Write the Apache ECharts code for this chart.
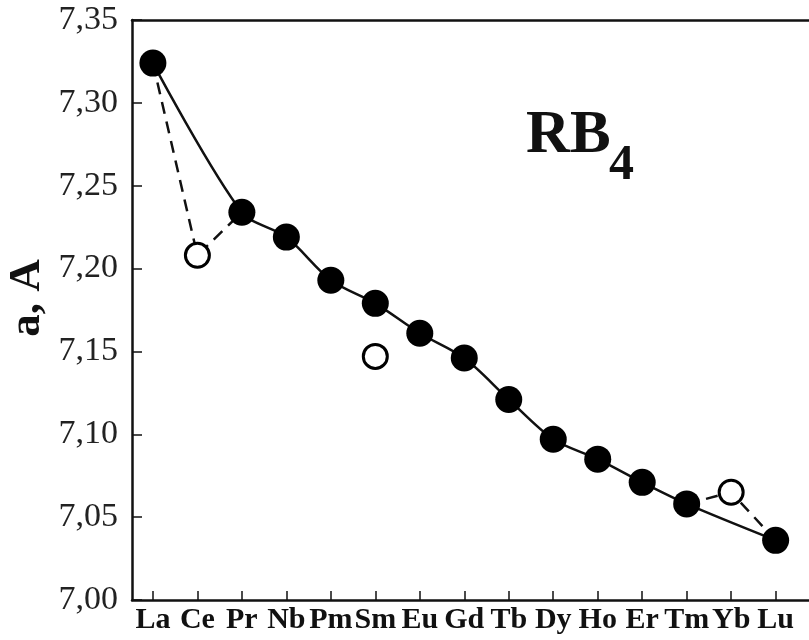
<!DOCTYPE html>
<html>
<head>
<meta charset="utf-8">
<script src="https://cdn.jsdelivr.net/npm/echarts@6/dist/echarts.min.js"></script>
<style>
  html, body { margin: 0; padding: 0; background: #fff; }
  #chart { width: 809px; height: 640px; }
</style>
</head>
<body>
<div id="chart"></div>
<script>
const elements = ['La', 'Ce', 'Pr', 'Nb', 'Pm', 'Sm', 'Eu', 'Gd', 'Tb', 'Dy', 'Ho', 'Er', 'Tm', 'Yb', 'Lu']
// filled points on the solid curve (null = no point)
const latticeMain = [7.324, null, 7.234, 7.219, 7.193, 7.179, 7.161, 7.146, 7.121, 7.097, 7.085, 7.071, 7.058, null, 7.036]
// open circles
const latticeOpen = [null, 7.208, null, null, null, 7.147, null, null, null, null, null, null, null, 7.065, null]
// dashed branches: indices of points
const dashA = [0, 1, 2]
const dashB = [12, 13, 14]

const serif = '"Liberation Serif", "DejaVu Serif", serif'

function toPairs(arr) {
  const out = []
  arr.forEach((v, i) => {
    if (v !== null) out.push([i, v])
  })
  return out
}
function dashPairs(idx) {
  return idx.map(i => [i, latticeMain[i] !== null ? latticeMain[i] : latticeOpen[i]])
}

const chart = echarts.init(document.getElementById('chart'))
const tickIdx = elements.map((e, i) => i)

chart.setOption({
  animation: false,
  grid: { left: 132, right: 0, top: 20, bottom: 40 },
  xAxis: [
    {
      type: 'value',
      min: -0.47,
      max: 14.75,
      splitLine: { show: false },
      axisLine: { show: true, onZero: false, lineStyle: { color: '#111', width: 2.5 } },
      // negative length -> ticks point into the plot
      axisTick: { show: true, length: -9, customValues: tickIdx, lineStyle: { color: '#111', width: 1.5 } },
      axisLabel: {
        customValues: tickIdx,
        formatter: v => elements[Math.round(v)],
        fontFamily: serif,
        fontWeight: 'bold',
        fontSize: 30,
        color: '#111',
        margin: 5
      }
    },
    {
      // top frame line only
      type: 'value',
      position: 'top',
      min: -0.47,
      max: 14.75,
      splitLine: { show: false },
      axisLine: { show: true, onZero: false, lineStyle: { color: '#111', width: 2.5 } },
      axisTick: { show: false },
      axisLabel: { show: false }
    }
  ],
  yAxis: {
    type: 'value',
    min: 7.0,
    max: 7.35,
    interval: 0.05,
    splitLine: { show: false },
    axisLine: { show: true, onZero: false, lineStyle: { color: '#111', width: 2.5 } },
    axisTick: { show: true, length: -10, lineStyle: { color: '#111', width: 1.5 } },
    axisLabel: {
      formatter: v => v.toFixed(2).replace('.', ','),
      fontFamily: serif,
      fontSize: 34,
      color: '#222',
      margin: 14
    }
  },
  graphic: [
    {
      type: 'text',
      x: 27,
      y: 298,
      rotation: Math.PI / 2,
      style: {
        text: 'a, A',
        font: 'bold 45px ' + serif,
        fill: '#111',
        textAlign: 'center',
        textVerticalAlign: 'middle'
      }
    },
    {
      type: 'text',
      left: 526,
      top: 106,
      style: { text: 'RB', font: 'bold 61px ' + serif, fill: '#111' }
    },
    {
      type: 'text',
      left: 609,
      top: 141,
      style: { text: '4', font: 'bold 50px ' + serif, fill: '#111' }
    }
  ],
  series: [
    {
      type: 'line',
      data: dashPairs(dashA),
      showSymbol: false,
      lineStyle: { color: '#111', width: 2.5, type: [12, 8] },
      z: 1
    },
    {
      type: 'line',
      data: dashPairs(dashB),
      showSymbol: false,
      lineStyle: { color: '#111', width: 2.5, type: [12, 8] },
      z: 1
    },
    {
      type: 'line',
      data: toPairs(latticeMain),
      smooth: 0.3,
      symbol: 'circle',
      symbolSize: 27,
      itemStyle: { color: '#000' },
      lineStyle: { color: '#111', width: 2.5 },
      z: 2
    },
    {
      type: 'scatter',
      data: toPairs(latticeOpen),
      symbol: 'circle',
      symbolSize: 24,
      itemStyle: { color: '#fff', borderColor: '#000', borderWidth: 3, opacity: 1 },
      z: 3
    }
  ]
})
</script>
</body>
</html>
